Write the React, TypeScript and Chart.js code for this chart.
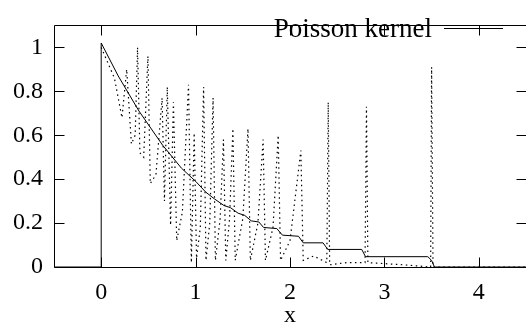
import React, { useEffect, useRef } from "react";
import { Chart, registerables } from "chart.js";

Chart.register(...registerables);

const FONT = "'Liberation Serif', 'Times New Roman', serif";

// Poisson kernel (solid line)
const solidX = [-0.5, 0, 0, 0.18, 0.4, 0.65, 0.85, 1.0, 1.11, 1.2, 1.3, 1.37, 1.45, 1.52, 1.59, 1.67, 1.72, 1.86, 1.92, 2.09, 2.14, 2.35, 2.4, 2.76, 2.8, 3.46, 3.5, 3.53, 4.5];
const solidY = [0, 0, 1.02, 0.87, 0.71, 0.555, 0.45, 0.39, 0.34, 0.31, 0.28, 0.27, 0.245, 0.235, 0.21, 0.205, 0.18, 0.175, 0.145, 0.14, 0.11, 0.11, 0.08, 0.08, 0.047, 0.047, 0.03, 0, 0];

// oscillating approximation (dotted line)
const dottedX = [0, 0.14, 0.22, 0.27, 0.32, 0.36, 0.385, 0.41, 0.45, 0.495, 0.52, 0.58, 0.645, 0.67, 0.7, 0.735, 0.765, 0.8, 0.86, 0.925, 0.955, 0.985, 1.01, 1.05, 1.085, 1.11, 1.15, 1.185, 1.21, 1.26, 1.295, 1.32, 1.36, 1.395, 1.42, 1.5, 1.555, 1.58, 1.66, 1.715, 1.74, 1.82, 1.875, 1.9, 2.0, 2.115, 2.14, 2.25, 2.39, 2.405, 2.42, 2.6, 2.795, 2.81, 2.825, 3.2, 3.49, 3.5, 3.515, 4.5];
const dottedY = [1.0, 0.86, 0.68, 0.9, 0.56, 0.6, 1.0, 0.52, 0.5, 0.96, 0.38, 0.42, 0.77, 0.3, 0.82, 0.19, 0.75, 0.12, 0.25, 0.83, 0.02, 0.61, 0.04, 0.18, 0.82, 0.03, 0.2, 0.77, 0.03, 0.22, 0.58, 0.03, 0.22, 0.63, 0.03, 0.22, 0.63, 0.03, 0.2, 0.58, 0.03, 0.18, 0.6, 0.03, 0.12, 0.53, 0.03, 0.05, 0.02, 0.75, 0.01, 0.02, 0.02, 0.73, 0.02, 0.01, 0.0, 0.91, 0, 0];

const xTicks = [0, 1, 2, 3, 4];
const xTickLabels = ["0", "1", "2", "3", "4"];
const yTicks = [0, 0.2, 0.4, 0.6, 0.8, 1];
const yTickLabels = ["0", "0.2", "0.4", "0.6", "0.8", "1"];
const legendLabel = "Poisson kernel";
const xTitle = "x";

const toPoints = (xs: number[], ys: number[]) => xs.map((x, i) => ({ x, y: ys[i] }));

export default function App() {
  const ref = useRef<HTMLCanvasElement>(null);

  useEffect(() => {
    if (!ref.current) return;
    const framePlugin = {
      id: "gnuFrame",
      afterDraw(chart: any) {
        const ctx = chart.ctx;
        const { left, right, top, bottom } = chart.chartArea;
        const xs = chart.scales.x;
        const ys = chart.scales.y;
        ctx.save();
        ctx.strokeStyle = "#000";
        ctx.lineWidth = 1;
        const L = Math.floor(left) + 0.5;
        const R = Math.floor(right) + 0.5;
        const T = Math.floor(top) + 0.5;
        const B = Math.floor(bottom) + 0.5;
        ctx.beginPath();
        ctx.moveTo(L, T);
        ctx.lineTo(R, T);
        ctx.lineTo(R, B);
        ctx.lineTo(L, B);
        ctx.closePath();
        ctx.stroke();
        const tl = 10;
        ctx.beginPath();
        xTicks.forEach((v) => {
          const px = Math.round(xs.getPixelForValue(v)) + 0.5;
          ctx.moveTo(px, B);
          ctx.lineTo(px, B - tl);
          ctx.moveTo(px, T);
          ctx.lineTo(px, T + tl);
        });
        yTicks.forEach((v) => {
          const py = Math.round(ys.getPixelForValue(v)) + 0.5;
          ctx.moveTo(L, py);
          ctx.lineTo(L + tl, py);
          ctx.moveTo(R, py);
          ctx.lineTo(R - tl, py);
        });
        ctx.stroke();
        // key
        ctx.font = `27px ${FONT}`;
        ctx.fillStyle = "#000";
        ctx.textAlign = "right";
        ctx.textBaseline = "alphabetic";
        ctx.fillText(legendLabel, 432, 37);
        ctx.beginPath();
        ctx.moveTo(444, 28.5);
        ctx.lineTo(503, 28.5);
        ctx.stroke();
        ctx.restore();
      },
    };

    const chart = new Chart(ref.current, {
      type: "scatter",
      data: {
        datasets: [
          {
            label: "approx",
            data: toPoints(dottedX, dottedY),
            showLine: true,
            borderColor: "#000",
            borderWidth: 1.2,
            borderDash: [1.5, 3.5],
            pointRadius: 0,
            tension: 0,
            fill: false,
          },
          {
            label: legendLabel,
            data: toPoints(solidX, solidY),
            showLine: true,
            borderColor: "#000",
            borderWidth: 1,
            pointRadius: 0,
            tension: 0,
            fill: false,
          },
        ],
      },
      options: {
        responsive: false,
        animation: false,
        devicePixelRatio: 1,
        layout: { padding: { top: 5, right: 0, left: 0, bottom: 0 } },
        plugins: { legend: { display: false }, tooltip: { enabled: false } },
        scales: {
          x: {
            type: "linear",
            min: -0.5,
            max: 4.5,
            grid: { display: false, drawTicks: false },
            border: { display: false },
            afterBuildTicks: (s: any) => {
              s.ticks = xTicks.map((v) => ({ value: v }));
            },
            afterFit: (s: any) => {
              s.height = 68;
            },
            ticks: {
              color: "#000",
              padding: 11,
              maxRotation: 0,
              font: { family: FONT, size: 24 },
              callback: (_v: any, i: number) => xTickLabels[i],
            },
            title: {
              display: true,
              text: xTitle,
              color: "#000",
              font: { family: FONT, size: 24 },
              padding: { top: 0, bottom: 5 },
            },
          },
          y: {
            type: "linear",
            min: 0,
            max: 1.1,
            grid: { display: false, drawTicks: false },
            border: { display: false },
            afterBuildTicks: (s: any) => {
              s.ticks = yTicks.map((v) => ({ value: v }));
            },
            afterFit: (s: any) => {
              s.width = 54;
            },
            ticks: {
              color: "#000",
              padding: 11,
              font: { family: FONT, size: 24 },
              callback: (_v: any, i: number) => yTickLabels[i],
            },
          },
        },
      },
      plugins: [framePlugin],
    });
    return () => chart.destroy();
  }, []);

  return (
    <div style={{ position: "fixed", left: 0, top: 0, width: 526, height: 335, background: "#fff" }}>
      <canvas ref={ref} width={526} height={335} style={{ display: "block", width: 526, height: 335 }} />
    </div>
  );
}
